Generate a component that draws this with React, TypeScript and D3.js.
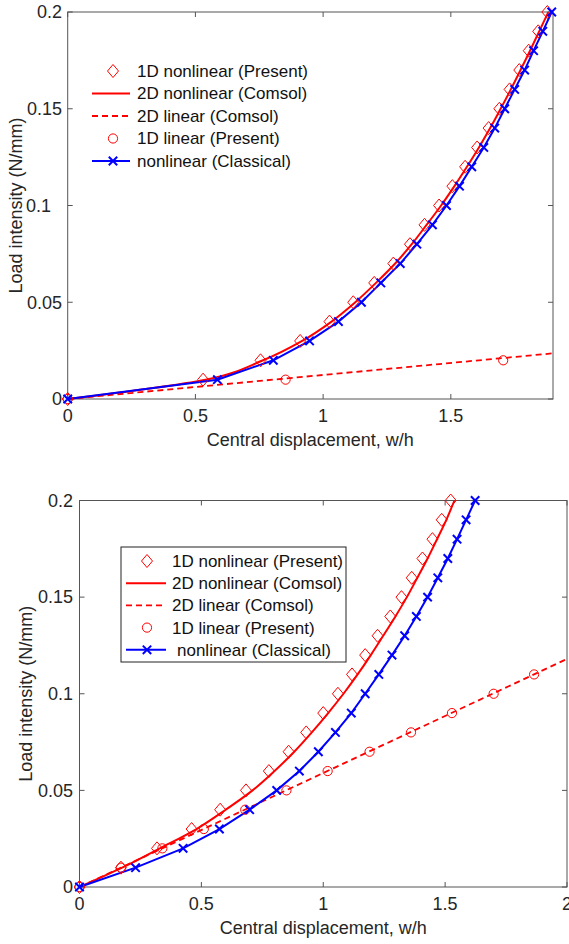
import React from 'react';
import * as d3 from 'd3';

// ---------- shared ----------
const loads = [0, 0.01, 0.02, 0.03, 0.04, 0.05, 0.06, 0.07, 0.08, 0.09, 0.1, 0.11, 0.12, 0.13, 0.14, 0.15, 0.16, 0.17, 0.18, 0.19, 0.2];
const xTicksTop = [0, 0.5, 1, 1.5];
const xTicksBottom = [0, 0.5, 1, 1.5, 2];
const yTicks = [0, 0.05, 0.1, 0.15, 0.2];
const legendLabels = ['1D nonlinear (Present)', '2D nonlinear (Comsol)', '2D linear (Comsol)', '1D linear (Present)', 'nonlinear (Classical)'];

// ---------- top chart data ----------
const top1DNonlinearW = [0, 0.53, 0.755, 0.91, 1.025, 1.118, 1.2, 1.275, 1.34, 1.397, 1.454, 1.506, 1.556, 1.603, 1.648, 1.69, 1.73, 1.768, 1.805, 1.842, 1.878];
const top2DNonlinearW = [0, 0.54, 0.765, 0.918, 1.033, 1.126, 1.207, 1.282, 1.347, 1.405, 1.462, 1.514, 1.563, 1.61, 1.654, 1.695, 1.735, 1.773, 1.81, 1.846, 1.882];
const topClassicalW = [0, 0.586, 0.805, 0.947, 1.06, 1.15, 1.226, 1.302, 1.367, 1.428, 1.483, 1.534, 1.582, 1.629, 1.672, 1.711, 1.75, 1.789, 1.824, 1.86, 1.895];
const top1DLinearLoad = [0, 0.01, 0.02];
const top1DLinearW = [0, 0.853, 1.705];
const top2DLinearLoad = [0, 0.0236];
const top2DLinearW = [0, 1.9];

// ---------- bottom chart data ----------
const bot1DNonlinearW = [0, 0.17, 0.318, 0.46, 0.577, 0.683, 0.777, 0.858, 0.93, 1.0, 1.06, 1.118, 1.172, 1.223, 1.275, 1.321, 1.363, 1.407, 1.448, 1.486, 1.523];
const bot2DNonlinearW = [0, 0.175, 0.33, 0.48, 0.6, 0.71, 0.8, 0.881, 0.953, 1.02, 1.083, 1.141, 1.195, 1.246, 1.296, 1.343, 1.386, 1.428, 1.467, 1.505, 1.538];
const botClassicalW = [0, 0.23, 0.425, 0.574, 0.698, 0.809, 0.902, 0.98, 1.05, 1.115, 1.172, 1.228, 1.282, 1.334, 1.382, 1.428, 1.47, 1.511, 1.549, 1.586, 1.623];
const bot1DLinearLoad = [0, 0.01, 0.02, 0.03, 0.04, 0.05, 0.06, 0.07, 0.08, 0.09, 0.1, 0.11];
const bot1DLinearW = [0, 0.17, 0.34, 0.51, 0.68, 0.849, 1.018, 1.19, 1.36, 1.528, 1.699, 1.865];
const bot2DLinearLoad = [0, 0.118];
const bot2DLinearW = [0, 2];

const RED = '#ff0000';
const BLUE = '#0000ff';
const AX = '#262626';
const FONT = '"Liberation Sans", Arial, sans-serif';

type Pt = [number, number];
const zip = (w: number[], l: number[]): Pt[] => w.map((v, i) => [v, l[i]]);

const Diamond = ({ x, y }: { x: number; y: number }) => (
  <path d={`M${x},${y - 6.5}L${x + 5.5},${y}L${x},${y + 6.5}L${x - 5.5},${y}Z`} fill="none" stroke={RED} strokeWidth={1} />
);
const Circ = ({ x, y }: { x: number; y: number }) => (
  <circle cx={x} cy={y} r={4.6} fill="none" stroke={RED} strokeWidth={1} />
);
const Cross = ({ x, y }: { x: number; y: number }) => (
  <path d={`M${x - 4.2},${y - 4.2}L${x + 4.2},${y + 4.2}M${x - 4.2},${y + 4.2}L${x + 4.2},${y - 4.2}`} stroke={BLUE} strokeWidth={2} />
);

interface ChartProps {
  id: string;
  left: number; right: number; top: number; bottom: number;
  xMax: number; xTicks: number[];
  nl1d: number[]; nl2d: number[]; cl: number[];
  lin1dW: number[]; lin1dL: number[]; lin2dW: number[]; lin2dL: number[];
  tickLabelRight: number; yLabelX: number; xTickBaseline: number; xLabelBaseline: number;
  yTickShift?: Record<string, number>;
  legend: { boxed: boolean; markerX: number; lineX0: number; lineX1: number; textX: number; lastTextX: number; rowY: number; rowH: number; box?: [number, number, number, number] };
}

const Chart = (p: ChartProps) => {
  const x = d3.scaleLinear().domain([0, p.xMax]).range([p.left, p.right]);
  const y = d3.scaleLinear().domain([0, 0.2]).range([p.bottom, p.top]);
  const lineLin = d3.line<Pt>().x(d => x(d[0])).y(d => y(d[1]));
  const lineSmooth = d3.line<Pt>().x(d => x(d[0])).y(d => y(d[1])).curve(d3.curveMonotoneY);
  const nl1 = zip(p.nl1d, loads);
  const nl2 = zip(p.nl2d, loads);
  const cl = zip(p.cl, loads);
  const l1 = zip(p.lin1dW, p.lin1dL);
  const l2 = zip(p.lin2dW, p.lin2dL);
  const fmt = (v: number) => String(v);
  const L = p.legend;
  const rows = legendLabels.map((_, i) => L.rowY + i * L.rowH);
  return (
    <g>
      <defs>
        <clipPath id={p.id}>
          <rect x={p.left} y={p.top - 2} width={p.right - p.left} height={p.bottom - p.top + 4} />
        </clipPath>
      </defs>
      <rect x={p.left} y={p.top} width={p.right - p.left} height={p.bottom - p.top} fill="white" stroke="#555" strokeWidth={1} />
      {p.xTicks.map(t => (
        <g key={'xt' + t}>
          <line x1={x(t)} x2={x(t)} y1={p.bottom} y2={p.bottom - 5} stroke="#555" />
          <line x1={x(t)} x2={x(t)} y1={p.top} y2={p.top + 5} stroke="#555" />
          <text x={x(t)} y={p.xTickBaseline} textAnchor="middle" fontSize={18} fill={AX} fontFamily={FONT}>{fmt(t)}</text>
        </g>
      ))}
      {yTicks.map(t => (
        <g key={'yt' + t}>
          <line x1={p.left} x2={p.left + 5} y1={y(t)} y2={y(t)} stroke="#555" />
          <line x1={p.right} x2={p.right - 5} y1={y(t)} y2={y(t)} stroke="#555" />
          <text x={p.tickLabelRight + ((p.yTickShift && p.yTickShift[fmt(t)]) || 0)} y={y(t)} dy="0.35em" textAnchor="end" fontSize={18} fill={AX} fontFamily={FONT}>{fmt(t)}</text>
        </g>
      ))}
      <text x={(p.left + p.right) / 2} y={p.xLabelBaseline} textAnchor="middle" fontSize={18} fill={AX} fontFamily={FONT}>Central displacement, w/h</text>
      <text transform={`translate(${p.yLabelX},${(p.top + p.bottom) / 2}) rotate(-90)`} textAnchor="middle" fontSize={18} fill={AX} fontFamily={FONT}>Load intensity (N/mm)</text>
      <g clipPath={`url(#${p.id})`}>
        <path d={lineLin(l2) || ''} fill="none" stroke={RED} strokeWidth={1.8} strokeDasharray="6,4" />
        <path d={lineSmooth(nl2) || ''} fill="none" stroke={RED} strokeWidth={2} />
        <path d={lineLin(cl) || ''} fill="none" stroke={BLUE} strokeWidth={2} />
      </g>
      {l1.map((d, i) => <Circ key={'c' + i} x={x(d[0])} y={y(d[1])} />)}
      {nl1.map((d, i) => <Diamond key={'d' + i} x={x(d[0])} y={y(d[1])} />)}
      {cl.map((d, i) => <Cross key={'x' + i} x={x(d[0])} y={y(d[1])} />)}
      {L.boxed && L.box && (
        <rect x={L.box[0]} y={L.box[1]} width={L.box[2]} height={L.box[3]} fill="white" stroke="#222" strokeWidth={1} />
      )}
      <Diamond x={L.markerX} y={rows[0]} />
      <line x1={L.lineX0} x2={L.lineX1} y1={rows[1]} y2={rows[1]} stroke={RED} strokeWidth={2} />
      <line x1={L.lineX0} x2={L.lineX1} y1={rows[2]} y2={rows[2]} stroke={RED} strokeWidth={1.8} strokeDasharray="6,4" />
      <Circ x={L.markerX} y={rows[3]} />
      <line x1={L.lineX0} x2={L.lineX1} y1={rows[4]} y2={rows[4]} stroke={BLUE} strokeWidth={2} />
      <Cross x={L.markerX} y={rows[4]} />
      {legendLabels.map((t, i) => (
        <text key={'lg' + i} x={i === 4 ? L.lastTextX : L.textX} y={rows[i]} dy="0.35em" fontSize={17} fill="#111" fontFamily={FONT}>{t}</text>
      ))}
    </g>
  );
};

export default function App() {
  return (
    <svg width={569} height={944} style={{ position: 'absolute', left: 0, top: 0, background: 'white' }}>
      <rect x={0} y={0} width={569} height={944} fill="white" />
      <Chart
        id="clipTop"
        left={67.7} right={553} top={12} bottom={399}
        xMax={1.9} xTicks={xTicksTop}
        nl1d={top1DNonlinearW} nl2d={top2DNonlinearW} cl={topClassicalW}
        lin1dW={top1DLinearW} lin1dL={top1DLinearLoad} lin2dW={top2DLinearW} lin2dL={top2DLinearLoad}
        tickLabelRight={62} yLabelX={22} xTickBaseline={422} xLabelBaseline={446}
        yTickShift={{ '0.1': -11 }}
        legend={{ boxed: false, markerX: 113, lineX0: 92, lineX1: 130, textX: 137, lastTextX: 137, rowY: 71, rowH: 22.5 }}
      />
      <Chart
        id="clipBot"
        left={79.5} right={567} top={500.5} bottom={887}
        xMax={2} xTicks={xTicksBottom}
        nl1d={bot1DNonlinearW} nl2d={bot2DNonlinearW} cl={botClassicalW}
        lin1dW={bot1DLinearW} lin1dL={bot1DLinearLoad} lin2dW={bot2DLinearW} lin2dL={bot2DLinearLoad}
        tickLabelRight={73} yLabelX={32} xTickBaseline={910} xLabelBaseline={934}
        legend={{ boxed: true, markerX: 147, lineX0: 126, lineX1: 166, textX: 172, lastTextX: 177, rowY: 561, rowH: 22.2, box: [121, 547, 225, 115] }}
      />
    </svg>
  );
}
